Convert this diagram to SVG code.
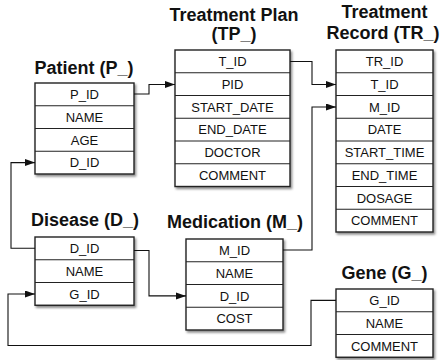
<svg xmlns="http://www.w3.org/2000/svg" width="441" height="360" viewBox="0 0 441 360">
<defs>
<style>
.title{font-family:"Liberation Sans",Arial,sans-serif;font-weight:bold;font-size:18px;fill:#111;text-anchor:middle}
.cell{font-family:"Liberation Sans",Arial,sans-serif;font-size:13px;fill:#111;text-anchor:middle}
.box{fill:#fff;stroke:#222;stroke-width:1.4}
.div{stroke:#222;stroke-width:1.2}
.conn{fill:none;stroke:#111;stroke-width:1.1}
</style>
<filter id="sh" x="-10%" y="-10%" width="130%" height="130%">
<feDropShadow dx="1.5" dy="2" stdDeviation="1.2" flood-color="#000" flood-opacity="0.45"/>
</filter>
<marker id="arr" markerWidth="11" markerHeight="8" refX="10" refY="3.5" orient="auto" markerUnits="userSpaceOnUse">
<path d="M0,0 L10,3.5 L0,7 z" fill="#111"/>
</marker>
</defs>
<rect width="441" height="360" fill="#fff"/>

<g id="patient">
<text class="title" x="84" y="74">Patient (P_)</text>
<rect class="box" x="35" y="83" width="99" height="91" filter="url(#sh)"/>
<line class="div" x1="35" y1="105.75" x2="134" y2="105.75"/>
<line class="div" x1="35" y1="128.5" x2="134" y2="128.5"/>
<line class="div" x1="35" y1="151.25" x2="134" y2="151.25"/>
<text class="cell" x="84.5" y="99">P_ID</text>
<text class="cell" x="84.5" y="121.8">NAME</text>
<text class="cell" x="84.5" y="144.5">AGE</text>
<text class="cell" x="84.5" y="167.3">D_ID</text>
</g>

<g id="treatment_plan">
<text class="title" x="234" y="21">Treatment Plan</text>
<text class="title" x="234" y="40">(TP_)</text>
<rect class="box" x="175" y="50" width="115" height="136.5" filter="url(#sh)"/>
<line class="div" x1="175" y1="72.75" x2="290" y2="72.75"/>
<line class="div" x1="175" y1="95.5" x2="290" y2="95.5"/>
<line class="div" x1="175" y1="118.25" x2="290" y2="118.25"/>
<line class="div" x1="175" y1="141" x2="290" y2="141"/>
<line class="div" x1="175" y1="163.75" x2="290" y2="163.75"/>
<text class="cell" x="232.5" y="66">T_ID</text>
<text class="cell" x="232.5" y="88.8">PID</text>
<text class="cell" x="232.5" y="111.5">START_DATE</text>
<text class="cell" x="232.5" y="134.3">END_DATE</text>
<text class="cell" x="232.5" y="157">DOCTOR</text>
<text class="cell" x="232.5" y="179.8">COMMENT</text>
</g>

<g id="treatment_record">
<text class="title" x="384.5" y="18">Treatment</text>
<text class="title" x="383" y="39">Record (TR_)</text>
<rect class="box" x="336" y="50" width="97" height="182" filter="url(#sh)"/>
<line class="div" x1="336" y1="72.75" x2="433" y2="72.75"/>
<line class="div" x1="336" y1="95.5" x2="433" y2="95.5"/>
<line class="div" x1="336" y1="118.25" x2="433" y2="118.25"/>
<line class="div" x1="336" y1="141" x2="433" y2="141"/>
<line class="div" x1="336" y1="163.75" x2="433" y2="163.75"/>
<line class="div" x1="336" y1="186.5" x2="433" y2="186.5"/>
<line class="div" x1="336" y1="209.25" x2="433" y2="209.25"/>
<text class="cell" x="384.5" y="66">TR_ID</text>
<text class="cell" x="384.5" y="88.8">T_ID</text>
<text class="cell" x="384.5" y="111.5">M_ID</text>
<text class="cell" x="384.5" y="134.3">DATE</text>
<text class="cell" x="384.5" y="157">START_TIME</text>
<text class="cell" x="384.5" y="179.8">END_TIME</text>
<text class="cell" x="384.5" y="202.5">DOSAGE</text>
<text class="cell" x="384.5" y="225.3">COMMENT</text>
</g>

<g id="disease">
<text class="title" x="85" y="225.5">Disease (D_)</text>
<rect class="box" x="35" y="237" width="99" height="68.25" filter="url(#sh)"/>
<line class="div" x1="35" y1="259.75" x2="134" y2="259.75"/>
<line class="div" x1="35" y1="282.5" x2="134" y2="282.5"/>
<text class="cell" x="84.5" y="253">D_ID</text>
<text class="cell" x="84.5" y="275.8">NAME</text>
<text class="cell" x="84.5" y="298.5">G_ID</text>
</g>

<g id="medication">
<text class="title" x="235" y="228">Medication (M_)</text>
<rect class="box" x="186" y="239" width="97" height="91" filter="url(#sh)"/>
<line class="div" x1="186" y1="261.75" x2="283" y2="261.75"/>
<line class="div" x1="186" y1="284.5" x2="283" y2="284.5"/>
<line class="div" x1="186" y1="307.25" x2="283" y2="307.25"/>
<text class="cell" x="234.5" y="255">M_ID</text>
<text class="cell" x="234.5" y="277.8">NAME</text>
<text class="cell" x="234.5" y="300.5">D_ID</text>
<text class="cell" x="234.5" y="323.3">COST</text>
</g>

<g id="gene">
<text class="title" x="384.5" y="279">Gene (G_)</text>
<rect class="box" x="336" y="289" width="97" height="68.25" filter="url(#sh)"/>
<line class="div" x1="336" y1="311.75" x2="433" y2="311.75"/>
<line class="div" x1="336" y1="334.5" x2="433" y2="334.5"/>
<text class="cell" x="384.5" y="305">G_ID</text>
<text class="cell" x="384.5" y="327.8">NAME</text>
<text class="cell" x="384.5" y="350.5">COMMENT</text>
</g>

<g id="connectors">
<path class="conn" d="M134,94 H149 V84.5 H175" marker-end="url(#arr)"/>
<path class="conn" d="M290,61.5 H312 V84.5 H336" marker-end="url(#arr)"/>
<path class="conn" d="M283,250 H312 V107 H336" marker-end="url(#arr)"/>
<path class="conn" d="M35,248.3 H11 V162.6 H35" marker-end="url(#arr)"/>
<path class="conn" d="M134,250.5 H149 V295.9 H186" marker-end="url(#arr)"/>
<path class="conn" d="M336,300.4 H311 V345.5 H8 V294 H35" marker-end="url(#arr)"/>
</g>
</svg>
